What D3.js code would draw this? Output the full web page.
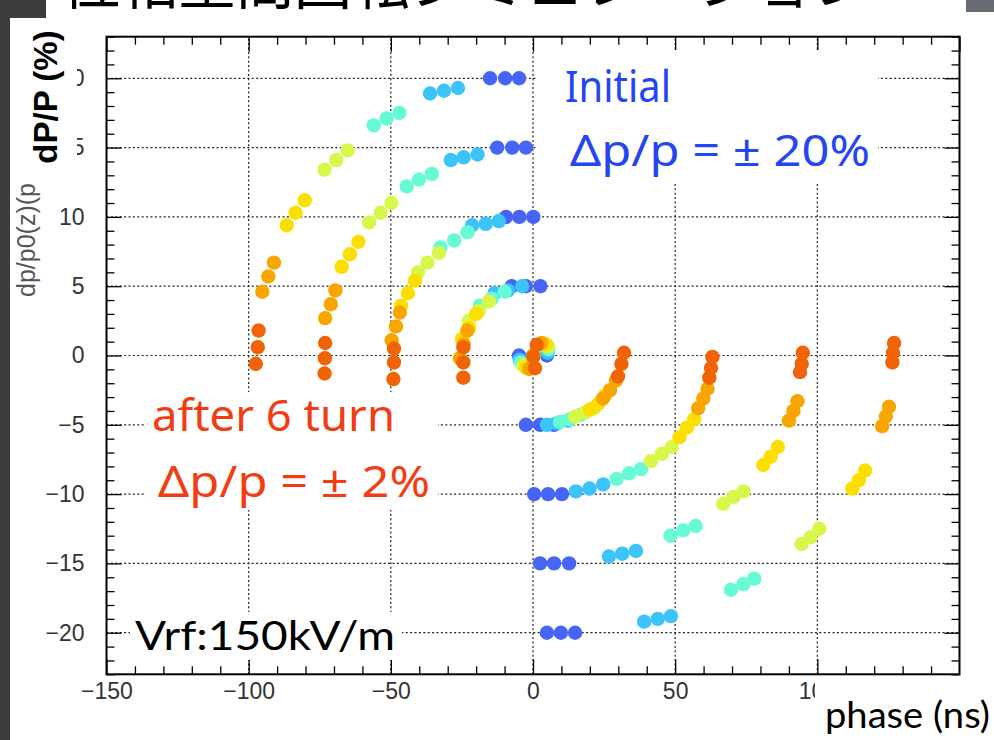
<!DOCTYPE html>
<html><head><meta charset="utf-8">
<script src="https://cdn.jsdelivr.net/npm/d3@7"></script>
<style>body{margin:0;background:#fff;} svg{display:block;}</style>
</head><body>
<script>
// ---------------- data (phase in ns, dP/P in %) ----------------
// each turn: 9 rows (dP/P start = +20,+15,+10,+5,0,-5,-10,-15,-20), 3 particles per row
const turnNames = ["turn 0","turn 1","turn 2","turn 3","turn 4","turn 5","turn 6"];
const turnColors = ["#4664f5","#3cc3fa","#66fad6","#d7f84b","#fcde00","#f9a500","#f06405"];

const phaseT0 = [-15.1,-9.8,-4.9, -12.6,-7.3,-2.5, -9.5,-4.8,0.1, -7.5,-2.5,2.6, -4.9,0.0,4.9, -2.5,2.5,7.4, 0.4,5.3,10.2, 2.5,7.4,12.7, 4.9,9.8,14.8];
const dpT0    = [20,20,20, 15,15,15, 10,10,10, 5,5,5, 0,0,0, -5,-5,-5, -10,-10,-10, -15,-15,-15, -20,-20,-20];

const phaseT1 = [-36.2,-31.3,-26.4, -28.9,-24.4,-19.5, -21.4,-16.6,-12.0, -13.5,-8.8,-3.8, -4.7,0.0,5.2, 4.9,8.4,12.3, 15.1,19.9,24.7, 26.7,31.4,36.2, 39.1,43.9,48.5];
const dpT1    = [18.9,19.1,19.3, 14.1,14.3,14.5, 9.4,9.5,9.7, 4.5,4.7,5.0, -0.3,0.0,0.2, -5.0,-4.9,-4.7, -9.8,-9.6,-9.3, -14.5,-14.3,-14.1, -19.2,-19.0,-18.8];

const phaseT2 = [-56.0,-51.5,-47.0, -44.4,-40.1,-35.6, -32.5,-27.7,-23.0, -18.7,-14.5,-10.0, -4.3,0.1,5.4, 9.5,13.0,16.5, 29.4,33.8,38.0, 48.4,52.9,57.2, 69.6,74.0,77.8];
const dpT2    = [16.6,17.1,17.5, 12.2,12.7,13.1, 7.8,8.3,8.9, 3.6,4.1,4.6, -0.5,0.0,0.45, -4.8,-4.6,-4.3, -8.9,-8.5,-8.2, -13.0,-12.6,-12.3, -16.9,-16.5,-16.1];

const phaseT3 = [-73.3,-69.2,-65.2, -57.6,-53.6,-49.8, -40.4,-37.1,-33.1, -22.6,-19.1,-15.5, -3.5,0.2,5.3, 14.8,18.3,21.5, 41.5,45.3,48.8, 66.9,70.5,74.0, 94.5,97.7,100.7];
const dpT3    = [13.4,14.1,14.8, 9.6,10.3,11.0, 6.0,6.7,7.4, 2.5,3.2,3.9, -0.7,0.0,0.65, -4.4,-4.1,-3.8, -7.6,-7.1,-6.6, -10.7,-10.2,-9.8, -13.6,-13.1,-12.5];

const phaseT4 = [-86.6,-83.5,-80.3, -67.3,-64.4,-61.4, -46.4,-44.0,-41.5, -25.0,-22.5,-20.0, -2.5,0.2,4.6, 20.0,22.9,25.3, 51.5,54.1,56.7, 81.0,83.6,86.1, 112.3,114.6,116.8];
const dpT4    = [9.4,10.3,11.2, 6.4,7.3,8.2, 3.6,4.5,5.4, 1.2,2.0,3.0, -0.87,0.0,0.8, -3.9,-3.5,-2.9, -5.9,-5.2,-4.6, -7.9,-7.3,-6.6, -9.6,-9.0,-8.3];

const phaseT5 = [-95.2,-93.1,-91.1, -73.1,-71.1,-69.5, -49.7,-48.2,-46.8, -25.7,-24.4,-23.1, -1.3,0.2,3.0, 24.6,27.1,29.2, 58.1,59.9,61.4, 90.0,91.6,93.0, 122.8,124.1,125.2];
const dpT5    = [4.6,5.7,6.7, 2.7,3.7,4.7, 1.1,2.1,3.1, -0.2,0.8,1.8, -0.97,0.02,0.9, -3.1,-2.5,-1.8, -3.8,-3.1,-2.4, -4.7,-4.0,-3.3, -5.1,-4.4,-3.7];

const phaseT6 = [-97.5,-96.8,-96.5, -73.3,-73.2,-73.1, -49.1,-48.9,-48.9, -24.5,-24.5,-24.5, 0.7,0.1,1.3, 29.9,31.1,32.0, 62.0,62.6,63.1, 93.9,94.5,94.9, 126.4,126.6,127.0];
const dpT6    = [-0.6,0.6,1.8, -1.3,-0.2,0.9, -1.7,-0.5,0.5, -1.6,-0.5,0.6, -0.92,-0.09,0.76, -1.5,-0.6,0.2, -1.6,-0.9,-0.1, -1.2,-0.6,0.2, -0.5,0.2,0.9];

const phaseByTurn = [phaseT0,phaseT1,phaseT2,phaseT3,phaseT4,phaseT5,phaseT6];
const dpByTurn    = [dpT0,dpT1,dpT2,dpT3,dpT4,dpT5,dpT6];

const xMajorTicks = [-150,-100,-50,0,50,100,150];
const xLabelTicks = [-150,-100,-50,0,50,100];
const yMajorTicks = [-20,-15,-10,-5,0,5,10,15,20];
const xMinorTicks = d3.range(-150,151,10).filter(v=>v%50!==0);
const yMinorTicks = d3.range(-23,24,1).filter(v=>v%5!==0);

// ---------------- drawing ----------------
const W=994, H=740;
const svg = d3.select("body").append("svg").attr("width",W).attr("height",H);
svg.append("rect").attr("width",W).attr("height",H).attr("fill","#fff");

// slide background pieces
svg.append("rect").attr("x",0).attr("y",0).attr("width",10).attr("height",H).attr("fill","#3c3c3c");
svg.append("rect").attr("x",0).attr("y",0).attr("width",46).attr("height",18).attr("fill","#3c3c3c");
svg.append("rect").attr("x",966).attr("y",0).attr("width",28).attr("height",12).attr("fill","#676b72");

// partially visible slide title (cut off at the top of the slide)
const defs = svg.append("defs");
defs.append("clipPath").attr("id","titleclip").append("rect").attr("x",50).attr("y",0).attr("width",880).attr("height",12);
svg.append("g").attr("clip-path","url(#titleclip)")
  .append("text").attr("x",62).attr("y",4)
  .attr("font-family","'Noto Sans CJK JP'").attr("font-size",58)
  .attr("fill","#000").text("位相空間回転シミュレーション");

const x = d3.scaleLinear().domain([-150,150]).range([106.5,959.5]);
const y = d3.scaleLinear().domain([-23,23]).range([674.3,36.7]);
const X0 = x.range()[0], X1 = x.range()[1], Y0 = y.range()[0], Y1 = y.range()[1];

// grid
const grid = svg.append("g").attr("stroke","#222").attr("stroke-width",1.2).attr("stroke-dasharray","2,2.4");
grid.selectAll("line.gx").data(xMajorTicks.filter(v=>v>-150&&v<150)).join("line")
  .attr("x1",d=>x(d)).attr("x2",d=>x(d)).attr("y1",Y0).attr("y2",Y1);
grid.selectAll("line.gy").data(yMajorTicks).join("line")
  .attr("x1",X0).attr("x2",X1).attr("y1",d=>y(d)).attr("y2",d=>y(d));

// points
const pts = svg.append("g");
phaseByTurn.forEach((ph,t)=>{
  pts.append("g").attr("fill",turnColors[t])
    .selectAll("circle").data(ph.map((p,i)=>[p,dpByTurn[t][i]])).join("circle")
    .attr("cx",d=>x(d[0])).attr("cy",d=>y(d[1])).attr("r",7.2);
});

// axes
const font = "'Liberation Sans', Arial, sans-serif";
function styleAxis(g){ g.select(".domain").remove(); g.selectAll(".tick line").attr("stroke","#000").attr("stroke-width",1.3); g.selectAll("text").attr("font-family",font).attr("font-size",23).attr("fill","#333"); }
svg.append("g").attr("transform",`translate(0,${Y0})`)
  .call(d3.axisBottom(x).tickValues(xLabelTicks).tickSizeInner(-15).tickSizeOuter(0).tickPadding(8)).call(styleAxis);
svg.append("g").attr("transform",`translate(0,${Y0})`)
  .call(d3.axisBottom(x).tickValues(xMinorTicks).tickSizeInner(-8).tickSizeOuter(0).tickFormat("")).call(styleAxis);
svg.append("g").attr("transform",`translate(0,${Y1})`)
  .call(d3.axisTop(x).tickValues(xMajorTicks).tickSizeInner(-15).tickSizeOuter(0).tickFormat("")).call(styleAxis);
svg.append("g").attr("transform",`translate(0,${Y1})`)
  .call(d3.axisTop(x).tickValues(xMinorTicks).tickSizeInner(-8).tickSizeOuter(0).tickFormat("")).call(styleAxis);
svg.append("g").attr("transform",`translate(${X0},0)`)
  .call(d3.axisLeft(y).tickValues(yMajorTicks).tickSizeInner(-15).tickSizeOuter(0).tickPadding(22)).call(styleAxis);
svg.append("g").attr("transform",`translate(${X0},0)`)
  .call(d3.axisLeft(y).tickValues(yMinorTicks).tickSizeInner(-8).tickSizeOuter(0).tickFormat("")).call(styleAxis);
svg.append("g").attr("transform",`translate(${X1},0)`)
  .call(d3.axisRight(y).tickValues(yMajorTicks).tickSizeInner(-15).tickSizeOuter(0).tickFormat("")).call(styleAxis);
svg.append("g").attr("transform",`translate(${X1},0)`)
  .call(d3.axisRight(y).tickValues(yMinorTicks).tickSizeInner(-8).tickSizeOuter(0).tickFormat("")).call(styleAxis);

// frame
svg.append("rect").attr("x",X0).attr("y",Y1).attr("width",X1-X0).attr("height",Y0-Y1)
  .attr("fill","none").attr("stroke","#000").attr("stroke-width",2);

// original (small) y title
svg.append("text").attr("transform","translate(35,240) rotate(-90)").attr("text-anchor","middle")
  .attr("font-family",font).attr("font-size",25).attr("fill","#555").text("dp/p0(z)(p");

// overlaid y title with white box
svg.append("rect").attr("x",30).attr("y",20).attr("width",47).attr("height",152).attr("fill","#fff");
svg.append("text").attr("transform","translate(57,97) rotate(-90)").attr("text-anchor","middle")
  .attr("font-family",font).attr("font-weight","bold").attr("font-size",33).attr("fill","#000").text("dP/P (%)");

// x title with white box
svg.append("rect").attr("x",815).attr("y",680).attr("width",179).attr("height",60).attr("fill","#fff");
svg.append("text").attr("x",825).attr("y",728).attr("font-family","Lato, 'DejaVu Sans', sans-serif")
  .attr("font-size",36).attr("textLength",165).attr("lengthAdjust","spacingAndGlyphs").attr("fill","#000").text("phase (ns)");

// annotations
const annFont = "'Noto Sans', 'Liberation Sans', sans-serif";
svg.append("rect").attr("x",537).attr("y",50).attr("width",341).attr("height",132).attr("fill","#fff");
svg.append("text").attr("x",565).attr("y",102).attr("font-family",annFont).attr("font-size",43)
  .attr("fill","#2446f2").attr("textLength",106).attr("lengthAdjust","spacingAndGlyphs").text("Initial");
svg.append("text").attr("x",570).attr("y",166).attr("font-family",annFont).attr("font-size",43)
  .attr("fill","#2446f2").attr("textLength",300).attr("lengthAdjust","spacingAndGlyphs").text("Δp/p = ± 20%");

svg.append("rect").attr("x",146).attr("y",392).attr("width",292).attr("height",118).attr("fill","#fff");
svg.append("text").attr("x",152).attr("y",431).attr("font-family",annFont).attr("font-size",43)
  .attr("fill","#f33c12").attr("textLength",243).attr("lengthAdjust","spacingAndGlyphs").text("after 6 turn");
svg.append("text").attr("x",158).attr("y",497).attr("font-family",annFont).attr("font-size",43)
  .attr("fill","#f33c12").attr("textLength",272).attr("lengthAdjust","spacingAndGlyphs").text("Δp/p = ± 2%");

svg.append("rect").attr("x",130).attr("y",612).attr("width",272).attr("height",48).attr("fill","#fff");
svg.append("text").attr("x",135).attr("y",650).attr("font-family","Lato, 'DejaVu Sans', sans-serif")
  .attr("font-size",40).attr("textLength",260).attr("lengthAdjust","spacingAndGlyphs").attr("fill","#000").text("Vrf:150kV/m");
</script>
</body></html>
